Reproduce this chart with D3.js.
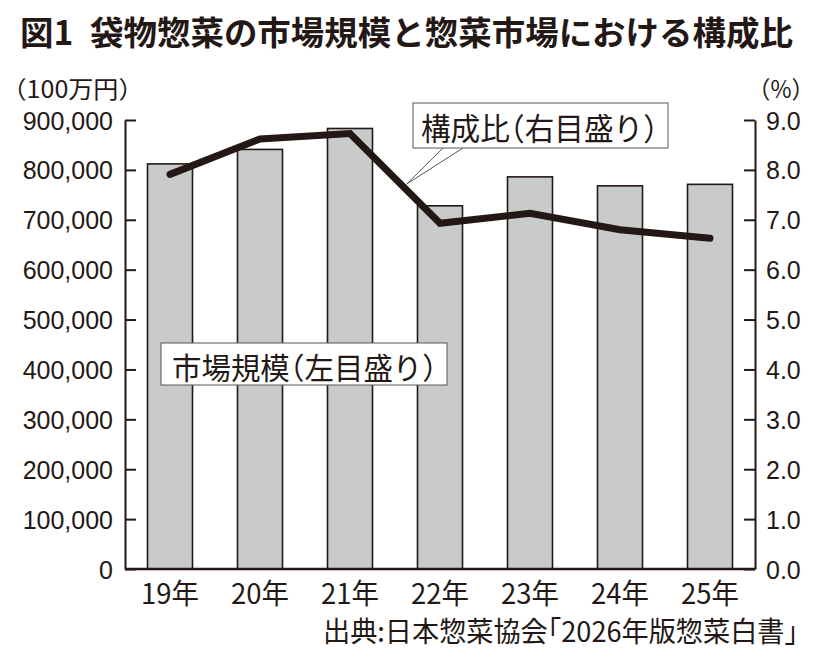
<!DOCTYPE html>
<html>
<head>
<meta charset="utf-8">
<script src="https://cdn.jsdelivr.net/npm/d3@7"></script>
<style>
    html, body { margin: 0; padding: 0; background: #fff; }
    svg text { font-family: "Noto Sans CJK JP", "Noto Sans", sans-serif; fill: #231815; }
    svg text.cjk { font-feature-settings: "halt" 1; }
</style>
</head>
<body>
<div id="chart"></div>
<script>
// 袋物惣菜の市場規模（棒・左目盛り）と構成比（折れ線・右目盛り）
const years = ['19年', '20年', '21年', '22年', '23年', '24年', '25年'];
const marketSize = [812000, 841000, 883000, 728000, 786000, 768000, 771000]; // 100万円
const shareRatio = [7.91, 8.62, 8.73, 6.93, 7.13, 6.80, 6.63];               // %
const leftTicks = [0, 100000, 200000, 300000, 400000, 500000, 600000, 700000, 800000, 900000];
const rightTicks = [0, 1, 2, 3, 4, 5, 6, 7, 8, 9];

const titleText = '図1\u2002袋物惣菜の市場規模と惣菜市場における構成比';
const sourceText = '出典:日本惣菜協会｢2026年版惣菜白書｣';

function createMarketChart() {
    const W = 820, H = 662;
    const ink = '#231815';
    const plot = { left: 125, right: 755, top: 120, bottom: 569 };

    const svg = d3.select('#chart')
        .append('svg')
        .attr('width', W)
        .attr('height', H)
        .attr('viewBox', `0 0 ${W} ${H}`);

    const x = d3.scaleBand()
        .domain(years)
        .range([plot.left, plot.right])
        .paddingInner(0.5)
        .paddingOuter(0.25);

    const yLeft = d3.scaleLinear()
        .domain([0, 900000])
        .range([plot.bottom, plot.top]);

    const yRight = d3.scaleLinear()
        .domain([0, 9])
        .range([plot.bottom, plot.top]);

    // small helper for fitted text (the original typeface is a little condensed)
    function fitText(str, x0, yc, len, size, weight) {
        return svg.append('text')
            .attr('class', 'cjk')
            .attr('x', x0)
            .attr('y', yc)
            .attr('dominant-baseline', 'central')
            .attr('textLength', len)
            .attr('lengthAdjust', 'spacingAndGlyphs')
            .style('font-size', size + 'px')
            .style('font-weight', weight || 'normal')
            .text(str);
    }

    // title
    fitText(titleText, 20, 31, 773, 33, 'bold');

    // unit labels
    fitText('（100万円）', 14, 87, 117, 24);
    fitText('（%）', 759, 87, 44, 24);

    // bars
    svg.selectAll('.bar')
        .data(years)
        .enter()
        .append('rect')
        .attr('class', 'bar')
        .attr('x', d => x(d))
        .attr('y', (d, i) => yLeft(marketSize[i]))
        .attr('width', x.bandwidth())
        .attr('height', (d, i) => yLeft(0) - yLeft(marketSize[i]))
        .attr('fill', '#c9caca')
        .attr('stroke', ink)
        .attr('stroke-width', 1.6);

    // axes (ticks point inward)
    const leftAxis = svg.append('g')
        .attr('transform', `translate(${plot.left},0)`)
        .call(d3.axisLeft(yLeft)
            .tickValues(leftTicks)
            .tickFormat(d3.format(','))
            .tickSize(-11)
            .tickSizeOuter(0)
            .tickPadding(12));

    const rightAxis = svg.append('g')
        .attr('transform', `translate(${plot.right},0)`)
        .call(d3.axisRight(yRight)
            .tickValues(rightTicks)
            .tickFormat(d3.format('.1f'))
            .tickSize(-11)
            .tickSizeOuter(0)
            .tickPadding(11));

    [leftAxis, rightAxis].forEach(g => {
        g.select('.domain').attr('stroke', ink).attr('stroke-width', 2);
        g.selectAll('.tick line').attr('stroke', ink).attr('stroke-width', 2);
        g.selectAll('.tick text')
            .attr('fill', ink)
            .style('font-family', '"Liberation Sans", Arial, sans-serif')
            .style('font-size', '25px')
            .attr('dy', '0.36em');
    });

    // baseline
    svg.append('line')
        .attr('x1', plot.left)
        .attr('x2', plot.right)
        .attr('y1', yLeft(0))
        .attr('y2', yLeft(0))
        .attr('stroke', ink)
        .attr('stroke-width', 2.5);

    // x labels
    svg.selectAll('.year-label')
        .data(years)
        .enter()
        .append('text')
        .attr('class', 'year-label')
        .attr('x', d => x(d) + x.bandwidth() / 2)
        .attr('y', 592)
        .attr('text-anchor', 'middle')
        .attr('dominant-baseline', 'central')
        .attr('textLength', 58)
        .attr('lengthAdjust', 'spacingAndGlyphs')
        .style('font-size', '28px')
        .text(d => d);

    // share line
    const line = d3.line()
        .x((d, i) => x(years[i]) + x.bandwidth() / 2)
        .y(d => yRight(d));

    // callout for the line (drawn before the line so the tip sits under it)
    const t = 0.63;
    const tipX = x(years[2]) + x.bandwidth() / 2 + t * (x(years[3]) - x(years[2]));
    const tipY = yRight(shareRatio[2] + t * (shareRatio[3] - shareRatio[2])) - 6;
    const box1 = { x: 413, y: 103, w: 255, h: 45 };

    svg.append('path')
        .attr('d', `M${box1.x + 30},${box1.y + box1.h} L${tipX},${tipY} L${box1.x + 50},${box1.y + box1.h}`)
        .attr('fill', '#fff')
        .attr('stroke', '#595757')
        .attr('stroke-width', 1);

    svg.append('rect')
        .attr('x', box1.x)
        .attr('y', box1.y)
        .attr('width', box1.w)
        .attr('height', box1.h)
        .attr('fill', '#fff')
        .attr('stroke', '#595757')
        .attr('stroke-width', 1);

    fitText('構成比（右目盛り）', 421, 126, 237, 31);

    svg.append('path')
        .datum(shareRatio)
        .attr('d', line)
        .attr('fill', 'none')
        .attr('stroke', ink)
        .attr('stroke-width', 7)
        .attr('stroke-linecap', 'round')
        .attr('stroke-linejoin', 'miter');

    // label for the bars
    const box2 = { x: 161, y: 343, w: 286, h: 42 };
    svg.append('rect')
        .attr('x', box2.x)
        .attr('y', box2.y)
        .attr('width', box2.w)
        .attr('height', box2.h)
        .attr('fill', '#fff')
        .attr('stroke', '#595757')
        .attr('stroke-width', 1);

    fitText('市場規模（左目盛り）', 172, 366, 265, 30);

    // source
    fitText(sourceText, 323, 630, 475, 28);
}

createMarketChart();
</script>
</body>
</html>
